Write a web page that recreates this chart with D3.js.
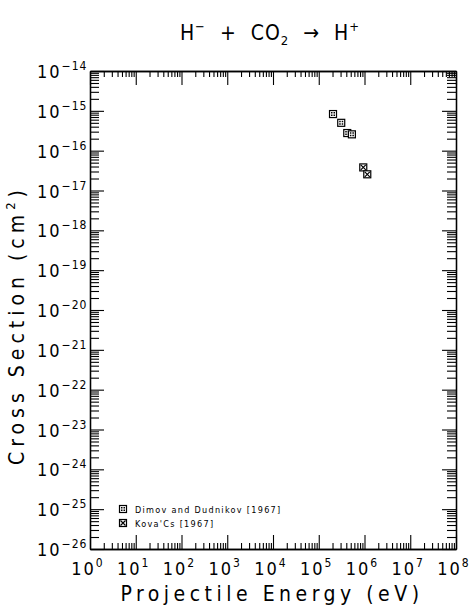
<!DOCTYPE html>
<html>
<head>
<meta charset="utf-8">
<script src="https://cdn.jsdelivr.net/npm/d3@7"></script>
<style>
  body { margin: 0; background: #fff; }
  text { font-family: "DejaVu Sans Condensed", "DejaVu Sans", sans-serif; fill: #000; }
</style>
</head>
<body>
<script>
// data
const dimovEnergy = [2.05e5, 3.1e5, 4.2e5, 5.3e5];
const dimovSigma = [8.3e-16, 5.0e-16, 2.77e-16, 2.57e-16];
const kovacsEnergy = [9.4e5, 1.15e6];
const kovacsSigma = [3.8e-17, 2.55e-17];

const xExps = d3.range(0, 9);     // 10^0 .. 10^8
const yExps = d3.range(-26, -13); // 10^-26 .. 10^-14
const legendNames = ["Dimov and Dudnikov [1967]", "Kova'Cs [1967]"];

const W = 470, H = 610;
const mLeft = 90, mRight = 456, mTop = 71, mBottom = 549;

const x = d3.scaleLog().domain([1, 1e8]).range([mLeft, mRight]);
const y = d3.scaleLog().domain([1e-26, 1e-14]).range([mBottom, mTop]);

const minors = (exps) => {
  const out = [];
  exps.slice(0, -1).forEach((e) => {
    for (let k = 2; k <= 9; k++) out.push(k * Math.pow(10, e));
  });
  return out;
};
const xMajor = xExps.map((e) => Math.pow(10, e));
const yMajor = yExps.map((e) => Math.pow(10, e));
const xMinor = minors(xExps);
const yMinor = minors(yExps);

const svg = d3.select("body").append("svg")
  .attr("width", W).attr("height", H);

const axisStyle = (g) => {
  g.select(".domain").attr("stroke", "#000").attr("stroke-width", 1.3);
  g.selectAll(".tick line").attr("stroke", "#000").attr("stroke-width", 1.1);
  g.selectAll(".tick text").remove();
};

// four sides, major + minor ticks pointing inward
const sides = [
  [() => d3.axisBottom(x), `translate(0,${mBottom})`, xMajor, xMinor, 14, 6],
  [() => d3.axisTop(x), `translate(0,${mTop})`, xMajor, xMinor, 14, 6],
  [() => d3.axisLeft(y), `translate(${mLeft},0)`, yMajor, yMinor, 14, 9],
  [() => d3.axisRight(y), `translate(${mRight},0)`, yMajor, yMinor, 14, 9],
];
sides.forEach(([mk, tr, maj, min, lMaj, lMin]) => {
  svg.append("g").attr("transform", tr)
    .call(mk().tickValues(maj).tickSizeInner(-lMaj).tickSizeOuter(0).tickFormat(""))
    .call(axisStyle);
  svg.append("g").attr("transform", tr)
    .call(mk().tickValues(min).tickSizeInner(-lMin).tickSizeOuter(0).tickFormat(""))
    .call(axisStyle);
});

// x tick labels
svg.append("g").selectAll("text")
  .data(xExps)
  .join("text")
  .attr("x", (e) => x(Math.pow(10, e)) - 2)
  .attr("y", 575)
  .attr("text-anchor", "middle")
  .attr("font-size", 18)
  .attr("letter-spacing", 2)
  .call((t) => t.append("tspan").text("10"))
  .call((t) => t.append("tspan").attr("dy", -8).attr("font-size", 12).text((e) => e));

// y tick labels
svg.append("g").selectAll("text")
  .data(yExps)
  .join("text")
  .attr("x", 37)
  .attr("y", (e) => y(Math.pow(10, e)) + 7)
  .attr("font-size", 18)
  .attr("letter-spacing", 2)
  .call((t) => t.append("tspan").text("10"))
  .call((t) => t.append("tspan").attr("dy", -8).attr("font-size", 12).attr("letter-spacing", 1)
    .text((e) => "\u2212" + Math.abs(e)));

// title
const title = svg.append("text")
  .attr("x", 270).attr("y", 40)
  .attr("text-anchor", "middle")
  .attr("font-size", 21)
  .attr("letter-spacing", 1)
  .attr("xml:space", "preserve");
title.append("tspan").text("H");
title.append("tspan").attr("dy", -9).attr("font-size", 13).text("\u2212");
title.append("tspan").attr("dy", 9).text("  +  CO");
title.append("tspan").attr("dy", 5).attr("font-size", 13).text("2");
title.append("tspan").attr("dy", -5).text("  \u2192  H");
title.append("tspan").attr("dy", -9).attr("font-size", 13).text("+");

// axis titles
svg.append("text")
  .attr("x", 272).attr("y", 601)
  .attr("text-anchor", "middle")
  .attr("font-size", 21)
  .attr("letter-spacing", 4.5)
  .text("Projectile Energy (eV)");

const yt = svg.append("text")
  .attr("transform", "translate(24,325) rotate(-90)")
  .attr("text-anchor", "middle")
  .attr("font-size", 21)
  .attr("letter-spacing", 5)
  .attr("xml:space", "preserve");
yt.append("tspan").text("Cross Section (cm");
yt.append("tspan").attr("dy", -9).attr("font-size", 13).text("2");
yt.append("tspan").attr("dy", 9).text(")");

// markers
const marker = (g, kind) => {
  g.append("rect").attr("x", -3.5).attr("y", -3.5).attr("width", 7).attr("height", 7)
    .attr("fill", "#fff").attr("stroke", "#000").attr("stroke-width", 1.2);
  if (kind === 0) {
    g.append("path").attr("d", "M-2,-2h1.5v1.5h-1.5z M0.5,0.5h1.5v1.5h-1.5z M0.5,-2h1.5v1.5h-1.5z M-2,0.5h1.5v1.5h-1.5z")
      .attr("fill", "#000");
  } else {
    g.append("path").attr("d", "M-2.5,-2.5L2.5,2.5M2.5,-2.5L-2.5,2.5")
      .attr("stroke", "#000").attr("stroke-width", 1.2);
  }
};

const series = [
  { e: dimovEnergy, s: dimovSigma, kind: 0 },
  { e: kovacsEnergy, s: kovacsSigma, kind: 1 },
];
series.forEach((ser) => {
  svg.append("g").selectAll("g")
    .data(d3.zip(ser.e, ser.s))
    .join("g")
    .attr("transform", ([e, s]) => `translate(${x(e)},${y(s)})`)
    .each(function () { marker(d3.select(this), ser.kind); });
});

// legend
const leg = svg.append("g").attr("transform", "translate(123,509)");
legendNames.forEach((name, i) => {
  const g = leg.append("g").attr("transform", `translate(0,${i * 14})`);
  marker(g.append("g"), i);
  g.append("text").attr("x", 12).attr("y", 3.5)
    .attr("font-size", 9).attr("letter-spacing", 1.3).text(name);
});
</script>
</body>
</html>
